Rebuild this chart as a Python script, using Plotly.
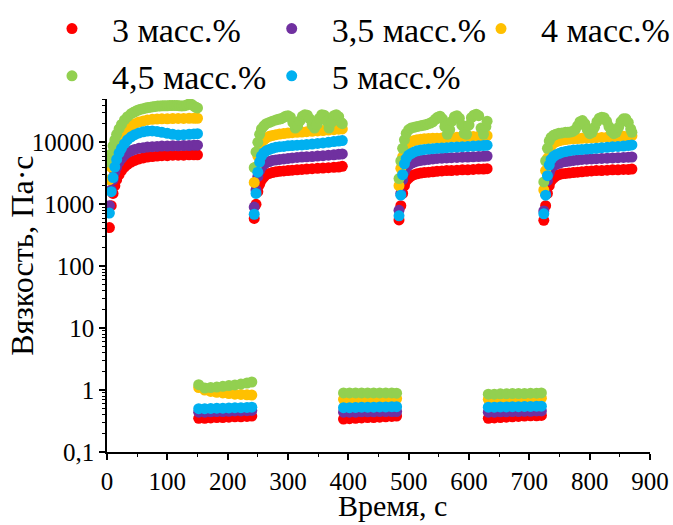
import plotly.graph_objects as go

# ---------------- data ----------------
names = ["3 масс.%", "3,5 масс.%", "4 масс.%", "4,5 масс.%", "5 масс.%"]
colors = ["#FF0000", "#7030A0", "#FFC000", "#92D050", "#00B0F0"]

rec_starts = [0, 240, 480, 720]          # s, start of each recovery step
low_starts = [150, 390, 630]             # s, start of each high-shear step
rec_t = [4, 7, 10, 13, 16, 20, 24, 29, 34, 40, 46, 53, 60, 67, 75, 83, 91, 100, 109, 118, 127, 136, 144, 150]
green_t = [4, 7, 10, 13, 16, 20, 24, 29, 34, 40, 44, 48, 52, 56, 60, 64, 68, 72, 76, 80, 84, 88, 92, 96,
           100, 104, 108, 112, 116, 120, 124, 128, 132, 136, 140, 144, 148, 150]
low_t = [2, 12, 22, 32, 42, 52, 62, 72, 82, 90]

# recovery steps (Pa·s), one list per step
red_rec = [
    [420, 950, 1500, 2000, 2500, 3000, 3500, 4000, 4400, 4800, 5100, 5400, 5600, 5800, 5900, 6000, 6100, 6100, 6200, 6200, 6200, 6300, 6300, 6300],
    [590, 1000, 1600, 2100, 2450, 2750, 3000, 3150, 3250, 3350, 3400, 3450, 3500, 3550, 3600, 3650, 3700, 3750, 3800, 3850, 3900, 3950, 4000, 4100],
    [560, 950, 1500, 2000, 2400, 2650, 2850, 3000, 3100, 3200, 3250, 3300, 3350, 3400, 3450, 3500, 3500, 3550, 3600, 3600, 3650, 3700, 3700, 3750],
    [550, 950, 1500, 2000, 2400, 2650, 2850, 3000, 3100, 3150, 3200, 3250, 3300, 3350, 3400, 3450, 3500, 3500, 3550, 3600, 3600, 3650, 3650, 3700],
]
purple_rec = [
    [950, 1700, 2500, 3300, 4000, 4800, 5500, 6200, 6800, 7300, 7700, 8000, 8200, 8400, 8500, 8600, 8700, 8700, 8800, 8800, 8900, 8900, 9000, 9000],
    [900, 1700, 2800, 3500, 4000, 4400, 4700, 4900, 5100, 5200, 5300, 5400, 5500, 5600, 5700, 5800, 5850, 5900, 6000, 6100, 6200, 6300, 6400, 6500],
    [800, 1500, 2500, 3300, 3900, 4300, 4600, 4800, 5000, 5100, 5200, 5300, 5400, 5500, 5550, 5600, 5650, 5700, 5750, 5800, 5850, 5900, 5950, 6000],
    [780, 1500, 2400, 3200, 3800, 4200, 4400, 4600, 4800, 4900, 5000, 5100, 5200, 5300, 5350, 5400, 5450, 5500, 5550, 5600, 5650, 5700, 5750, 5800],
]
yellow_rec = [
    [2500, 4000, 5500, 7200, 9000, 11000, 13000, 15000, 16800, 18500, 20000, 21300, 22200, 23000, 23500, 23800, 24000, 24000, 24200, 24300, 24300, 24500, 24500, 24500],
    [2250, 4000, 6000, 8000, 10000, 11000, 11800, 12500, 12900, 13300, 13600, 13900, 14100, 14300, 14500, 14700, 14900, 15100, 15300, 15500, 15800, 16000, 16300, 16500],
    [2000, 3800, 5800, 7500, 9000, 9800, 10300, 10700, 11000, 11200, 11400, 11500, 11600, 11700, 11800, 11900, 12000, 12100, 12200, 12300, 12400, 12500, 12600, 12800],
    [1700, 3500, 5500, 7300, 8800, 9700, 10200, 10600, 10900, 11100, 11300, 11400, 11500, 11600, 11700, 11800, 11900, 12000, 12100, 12200, 12300, 12500, 12600, 12800],
]
green_rec = [
    [4800, 6500, 8800, 11000, 13500, 16500, 19500, 23000, 26000, 29000, 30500, 32000, 33300, 34300, 35000, 35800, 36500, 37000, 37500,
     38000, 38500, 38800, 39000, 39000, 39000, 39200, 39500, 39500, 39300, 39000, 38800, 39000, 40000, 41500, 41000, 38500, 36500, 36000],
    [3900, 7000, 10000, 13500, 16500, 18500, 20000, 21000, 22000, 23000, 23500, 24000, 25000, 26500, 27000, 25500, 21000, 17000, 18500,
     22500, 26500, 28000, 27500, 24000, 19000, 17000, 19500, 24500, 28000, 27500, 22000, 17000, 21000, 27000, 28000, 26000, 21000, 20000],
    [2600, 5000, 8000, 11000, 14000, 16000, 17000, 17500, 18000, 18500, 18800, 19200, 19800, 20500, 21500, 23500, 25500, 26500, 24000,
     18000, 13500, 16000, 22000, 26000, 27000, 24500, 19000, 14000, 13500, 19000, 25000, 27500, 28500, 27000, 17000, 13500, 18000, 22000],
    [2300, 5000, 8000, 10500, 12000, 13000, 13500, 14000, 14200, 14500, 14500, 14700, 15000, 16000, 18500, 21500, 22500, 20000, 16000,
     13800, 14500, 17500, 21500, 24500, 25500, 25000, 22000, 18000, 15000, 13800, 14500, 17500, 21500, 24000, 24000, 21000, 16500, 14500],
]
blue_rec = [
    [720, 1600, 2700, 4000, 5300, 6700, 8000, 9500, 11000, 12300, 13300, 14200, 14800, 15200, 15300, 15000, 14500, 14000, 13500, 13200, 13300, 13500, 13700, 13800],
    [690, 1500, 3300, 4800, 6000, 6800, 7300, 7700, 8000, 8300, 8500, 8600, 8800, 8900, 9000, 9100, 9200, 9400, 9600, 9800, 10000, 10300, 10500, 10700],
    [650, 1400, 3000, 4500, 5500, 6200, 6600, 7000, 7300, 7500, 7700, 7800, 7900, 8000, 8100, 8200, 8300, 8400, 8500, 8600, 8700, 8800, 8900, 9000],
    [700, 1400, 2900, 4300, 5300, 5900, 6300, 6600, 6900, 7100, 7300, 7500, 7600, 7700, 7800, 7900, 8000, 8200, 8300, 8500, 8600, 8700, 8900, 9100],
]

# high-shear steps (Pa·s)
red_low = [
    [0.35, 0.35, 0.355, 0.36, 0.36, 0.365, 0.37, 0.37, 0.375, 0.38],
    [0.34, 0.345, 0.35, 0.355, 0.36, 0.36, 0.365, 0.37, 0.375, 0.38],
    [0.35, 0.355, 0.36, 0.365, 0.37, 0.375, 0.38, 0.385, 0.385, 0.39],
]
purple_low = [
    [0.44, 0.44, 0.445, 0.45, 0.45, 0.455, 0.46, 0.46, 0.465, 0.47],
    [0.44, 0.44, 0.44, 0.445, 0.445, 0.445, 0.45, 0.45, 0.45, 0.45],
    [0.44, 0.44, 0.445, 0.445, 0.45, 0.45, 0.455, 0.455, 0.46, 0.46],
]
yellow_low = [
    [1.1, 1.0, 0.95, 0.92, 0.9, 0.88, 0.86, 0.85, 0.84, 0.83],
    [0.71, 0.71, 0.715, 0.72, 0.72, 0.72, 0.725, 0.725, 0.73, 0.73],
    [0.71, 0.715, 0.72, 0.72, 0.725, 0.73, 0.73, 0.735, 0.74, 0.74],
]
green_low = [
    [1.22, 1.08, 1.1, 1.12, 1.15, 1.18, 1.21, 1.25, 1.3, 1.35],
    [0.9, 0.9, 0.9, 0.9, 0.9, 0.9, 0.9, 0.9, 0.9, 0.89],
    [0.86, 0.86, 0.87, 0.87, 0.88, 0.88, 0.88, 0.89, 0.89, 0.9],
]
blue_low = [
    [0.50, 0.50, 0.505, 0.51, 0.51, 0.515, 0.52, 0.52, 0.525, 0.53],
    [0.52, 0.52, 0.525, 0.53, 0.53, 0.53, 0.535, 0.535, 0.54, 0.54],
    [0.53, 0.53, 0.535, 0.535, 0.54, 0.54, 0.545, 0.545, 0.55, 0.55],
]

y_tickvals = [0.1, 1, 10, 100, 1000, 10000]
y_ticktext = ["0,1", "1", "10", "100", "1000", "10000"]
x_tickvals = [0, 100, 200, 300, 400, 500, 600, 700, 800, 900]
x_title = "Время, с"
y_title = "Вязкость, Па·с"

# ---------------- figure ----------------
series_rec = [red_rec, purple_rec, yellow_rec, green_rec, blue_rec]
series_low = [red_low, purple_low, yellow_low, green_low, blue_low]
series_t = [rec_t, rec_t, rec_t, green_t, rec_t]
legend_ids = ["legend", "legend2", "legend3", "legend", "legend2"]

FONT = "Liberation Serif"
fig = go.Figure()
for name, col, recs, lows, tt, lg in zip(names, colors, series_rec, series_low, series_t, legend_ids):
    xs, ys = [], []
    for s0, vals in zip(rec_starts, recs):
        xs += [s0 + t for t in tt]
        ys += vals
    for s0, vals in zip(low_starts, lows):
        xs += [s0 + t for t in low_t]
        ys += vals
    fig.add_trace(go.Scatter(x=xs, y=ys, mode="markers", name=name, legend=lg,
                             marker=dict(color=col, size=11, line=dict(width=0))))

minor_y = [m * 10 ** e for e in range(-1, 5) for m in range(2, 10)]


def leg(xpos):
    return dict(orientation="v", xref="container", yref="container",
                x=xpos, y=1.0, xanchor="left", yanchor="top",
                font=dict(family=FONT, size=34, color="black"),
                itemwidth=70, tracegroupgap=0, bgcolor="rgba(0,0,0,0)")


fig.update_layout(
    width=673, height=525,
    margin=dict(l=107, r=23, t=99, b=73, autoexpand=False),
    paper_bgcolor="white", plot_bgcolor="white",
    font=dict(family=FONT, color="black", size=25),
    showlegend=True,
    legend=leg(0.0475), legend2=leg(0.374), legend3=leg(0.685),
    xaxis=dict(range=[0, 900], tickmode="array", tickvals=x_tickvals, automargin=False,
               showgrid=False, zeroline=False, showline=True, linecolor="black", linewidth=1.5,
               ticks="outside", ticklen=6, tickwidth=1.5, tickcolor="black",
               tickfont=dict(family=FONT, size=25),
               minor=dict(ticks="outside", ticklen=3, tickwidth=1, tickcolor="black", dtick=50, tick0=0)),
    yaxis=dict(type="log", range=[-1, 4.7], tickmode="array", tickvals=y_tickvals, ticktext=y_ticktext,
               automargin=False,
               showgrid=False, zeroline=False, showline=True, linecolor="black", linewidth=1.5,
               ticks="outside", ticklen=6, tickwidth=1.5, tickcolor="black",
               tickfont=dict(family=FONT, size=25),
               minor=dict(ticks="outside", ticklen=3, tickwidth=1, tickcolor="black",
                          tickmode="array", tickvals=minor_y)),
    annotations=[
        dict(text=x_title, xref="paper", yref="paper", x=0.525, y=-0.203, xanchor="center", yanchor="bottom",
             showarrow=False, font=dict(family=FONT, size=30, color="black")),
        dict(text=y_title, xref="paper", yref="paper", x=-0.157, y=0.555, xanchor="center", yanchor="middle",
             textangle=-90, showarrow=False, font=dict(family=FONT, size=32, color="black")),
    ],
)

fig.write_html("out.html")
